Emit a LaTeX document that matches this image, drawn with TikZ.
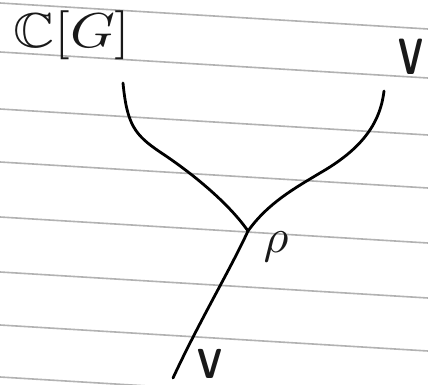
\documentclass[tikz,border=0pt]{standalone}
\usepackage{amssymb}
\begin{document}
\begin{tikzpicture}[x=1pt,y=-1pt,
  paperline/.style={draw=black!30,line width=1.6pt},
  strand/.style={draw=black,line width=2.8pt,line cap=round},
  lab/.style={inner sep=0pt,text=black!90}]
\useasboundingbox[fill=white] (0,0) rectangle (428,385);
% ruled paper
\foreach \y in {3,52,109,162,217,272,325,377}
  \draw[paperline] (0,\y) -- (428,\y+26);
% labels
\node[lab] (cg) at (72,35) {\scalebox{5.7}[4.9]{$\mathbb{C}[G]$}};
\node[lab,font=\sffamily\bfseries] (vtop) at (411,57) {\scalebox{3.4}[5.1]{V}};
\node[lab] (rho) at (276,247) {\scalebox{4.8}{$\rho$}};
\node[lab,font=\sffamily\bfseries] (vbot) at (210,364) {\scalebox{3.4}[4.2]{V}};
% strand ends
\coordinate (l0) at (123,83);
\coordinate (r0) at (384,91);
\coordinate (j) at (248,231);
\coordinate (b0) at (173,378);
% strands
\draw[strand] (l0) .. controls (127,125) and (135,135) .. (160,152)
  .. controls (195,175) and (230,205) .. (j);
\draw[strand] (r0) .. controls (380,125) and (360,150) .. (320,173)
  .. controls (295,188) and (268,203) .. (j);
\draw[strand] (j) .. controls (230,270) and (200,320) .. (b0);
\end{tikzpicture}
\end{document}
